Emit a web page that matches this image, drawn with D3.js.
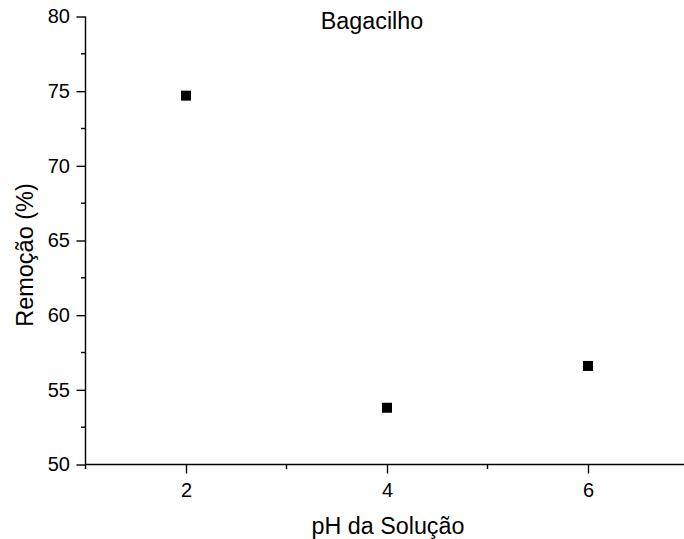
<!DOCTYPE html>
<html><head><meta charset="utf-8">
<script src="https://cdn.jsdelivr.net/npm/d3@7"></script>
<style>body{margin:0;background:#fff}svg{display:block}text{font-family:"Liberation Sans",Arial,sans-serif;fill:#000}</style>
</head><body><svg id="c" width="684" height="539"></svg>
<script>
const phValues = [2, 4, 6];
const removal = [74.7, 53.8, 56.6];
const xTicks = [2, 4, 6];
const yTicks = [50, 55, 60, 65, 70, 75, 80];
const title = "Bagacilho";
const xLabel = "pH da Solução";
const yLabel = "Remoção (%)";

const svg = d3.select("#c");
const x = d3.scaleLinear().domain([1, 7]).range([85.5, 688.5]);
const y = d3.scaleLinear().domain([50, 80]).range([464.5, 16.5]);

const xAxis = d3.axisBottom(x).tickValues(xTicks).tickSize(9).tickPadding(9.5).tickFormat(d3.format("d"));
const yAxis = d3.axisLeft(y).tickValues(yTicks).tickSize(9).tickPadding(6.5).tickFormat(d3.format("d"));

const gx = svg.append("g").attr("transform", "translate(0,464.5)").call(xAxis);
gx.select(".domain").attr("d", `M${x(1)},0H${x(7)}`);
const gy = svg.append("g").attr("transform", "translate(85.5,0)").call(yAxis);
gy.select(".domain").attr("d", `M0,${y(50)}V${y(80)}`);
[gx, gy].forEach(g => {
  g.selectAll("path,line").attr("stroke", "#000").attr("stroke-width", 1.4);
  g.selectAll("text").style("font-size", "20px").style("font-family", "Liberation Sans, Arial, sans-serif");
});
// minor ticks
const xMinor = [1, 3, 5, 7];
gx.selectAll(".minor").data(xMinor).enter().append("line")
  .attr("x1", d => x(d)).attr("x2", d => x(d)).attr("y1", 0).attr("y2", 4.5)
  .attr("stroke", "#000").attr("stroke-width", 1.4);
const yMinor = [52.5, 57.5, 62.5, 67.5, 72.5, 77.5];
gy.selectAll(".minor").data(yMinor).enter().append("line")
  .attr("y1", d => y(d)).attr("y2", d => y(d)).attr("x1", 0).attr("x2", -4.5)
  .attr("stroke", "#000").attr("stroke-width", 1.4);

svg.append("g").selectAll("rect").data(phValues).enter().append("rect")
  .attr("x", (d, i) => x(d) - 5).attr("y", (d, i) => y(removal[i]) - 5)
  .attr("width", 10).attr("height", 10).attr("fill", "#000");

svg.append("text").attr("x", 372).attr("y", 28.5).attr("text-anchor", "middle")
  .style("font-size", "23.3px").text(title);
svg.append("text").attr("x", 388).attr("y", 533.5).attr("text-anchor", "middle")
  .style("font-size", "23.3px").text(xLabel);
svg.append("text").attr("transform", "translate(32.5,255) rotate(-90)").attr("text-anchor", "middle")
  .style("font-size", "23.5px").text(yLabel);
</script></body></html>
